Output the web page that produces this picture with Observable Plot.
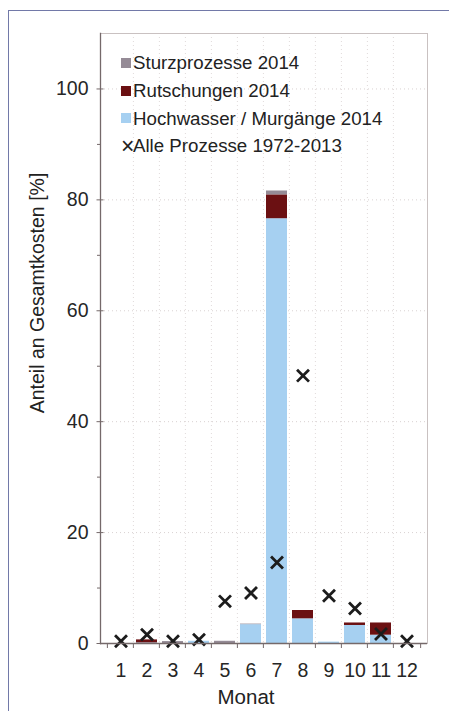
<!DOCTYPE html>
<html><head><meta charset="utf-8">
<script src="https://cdn.jsdelivr.net/npm/d3@7"></script>
<script src="https://cdn.jsdelivr.net/npm/@observablehq/plot@0.6"></script>
<style>
html,body{margin:0;padding:0;background:#fff;overflow:hidden;width:449px;height:711px}
#wrap{position:relative;width:449px;height:711px;font-family:"Liberation Sans",Arial,sans-serif;color:#222}
#wrap svg{position:absolute;left:0;top:0}
#border{position:absolute;left:8px;top:10px;width:500px;height:800px;border-left:1.5px solid #7279a8;border-top:1.5px solid #7279a8}
#legend{position:absolute;left:121px;top:49px;font-size:18.7px;line-height:27.8px}
.row{display:flex;align-items:center;white-space:nowrap;height:27.8px}
.sw{width:10px;height:10px;margin-right:2px;flex:none}
.x{width:12px;margin-right:0;text-align:center;font-size:23px;line-height:20px}
#ylab{position:absolute;left:37px;top:293px;transform:translate(-50%,-50%) rotate(-90deg);font-size:19.5px;white-space:nowrap}
#xlab{position:absolute;left:246px;top:697px;transform:translate(-50%,-50%);font-size:20.5px;white-space:nowrap}
</style></head>
<body>
<div id="wrap"><div id="border"></div></div>
<script>
// ---- data ----
const months = [1,2,3,4,5,6,7,8,9,10,11,12];
const hochwasser  = [0, 0.1, 0, 0.4, 0, 3.4, 76.6, 4.45, 0.25, 3.25, 1.5, 0];
const rutschungen = [0, 0.55, 0, 0, 0, 0, 4.3, 1.5, 0, 0.45, 2.2, 0];
const sturz       = [0, 0, 0.35, 0, 0.4, 0.1, 0.7, 0, 0, 0, 0, 0];
const alle        = [0.4, 1.6, 0.4, 0.7, 7.6, 9.1, 14.6, 48.3, 8.6, 6.3, 1.7, 0.4];
const seriesNames = ["Hochwasser / Murgänge 2014", "Rutschungen 2014", "Sturzprozesse 2014"];
const seriesColors = ["#a6d0f1", "#6b1012", "#958b96"];
const alleName = "Alle Prozesse 1972-2013";
const yMajor = [0, 20, 40, 60, 80, 100];
const yMinor = [10, 30, 50, 70, 90];
const yLabel = "Anteil an Gesamtkosten [%]";
const xLabel = "Monat";

const seriesValues = [hochwasser, rutschungen, sturz];
const table = [];
months.forEach((m, i) => seriesNames.forEach((s, k) => table.push({month: m, process: s, value: seriesValues[k][i]})));
const alleTable = months.map((m, i) => ({month: m, value: alle[i]}));

const W = 449, H = 711, mL = 100, mR = 22, mT = 33, mB = 68;
const step = (W - mL - mR) / months.length;
const axisColor = "#75696a";

const chart = Plot.plot({
  width: W, height: H,
  marginLeft: mL, marginRight: mR, marginTop: mT, marginBottom: mB,
  style: {fontFamily: "Liberation Sans, Arial, sans-serif", fontSize: "19.5px", color: "#262626", background: "transparent"},
  x: {type: "band", domain: months, padding: 0.19, align: 0.5},
  y: {domain: [0, 110]},
  color: {domain: seriesNames, range: seriesColors},
  marks: [
    Plot.gridY(yMajor.slice(1), {stroke: "#d9d2d2", strokeOpacity: 1, strokeDasharray: "1,3"}),
    Plot.gridX(months.slice(1), {stroke: "#e0dada", strokeOpacity: 1, strokeDasharray: "1,3", dx: -step / 2}),
    Plot.frame({stroke: "#c9c1c1"}),
    Plot.barY(table, {x: "month", y: "value", fill: "process", order: seriesNames}),
    Plot.dot(alleTable, {x: "month", y: "value", symbol: "times", r: 5.5, stroke: "#1c1c1c", strokeWidth: 2.8}),
    Plot.frame({anchor: "left", stroke: axisColor, strokeWidth: 1.3}),
    Plot.ruleY([0], {stroke: axisColor, strokeWidth: 1.3}),
    Plot.axisY(yMajor, {tickSize: 0, tickPadding: 12, label: null}),
    Plot.axisY(yMajor, {tickSize: 7, dx: 3.5, text: null, label: null, stroke: axisColor}),
    Plot.axisY(yMinor, {tickSize: 3, text: null, label: null, stroke: axisColor}),
    Plot.axisX(months, {tickSize: 0, tickPadding: 20, label: null}),
    Plot.axisX(months, {tickSize: 5, text: null, label: null, dx: -step / 2, stroke: axisColor}),
    Plot.axisX([months[months.length - 1]], {tickSize: 5, text: null, label: null, dx: step / 2, stroke: axisColor})
  ]
});
const wrap = document.getElementById("wrap");
wrap.appendChild(chart);

// legend (top to bottom: reversed stack order, then the crosses)
const legend = document.createElement("div");
legend.id = "legend";
[2, 1, 0].forEach(k => {
  const row = document.createElement("div");
  row.className = "row";
  row.innerHTML = `<span class="sw" style="background:${seriesColors[k]}"></span><span>${seriesNames[k]}</span>`;
  legend.appendChild(row);
});
const rowX = document.createElement("div");
rowX.className = "row";
rowX.innerHTML = `<span class="x">×</span><span>${alleName}</span>`;
legend.appendChild(rowX);
wrap.appendChild(legend);

const yl = document.createElement("div"); yl.id = "ylab"; yl.textContent = yLabel; wrap.appendChild(yl);
const xl = document.createElement("div"); xl.id = "xlab"; xl.textContent = xLabel; wrap.appendChild(xl);
</script>
</body></html>
